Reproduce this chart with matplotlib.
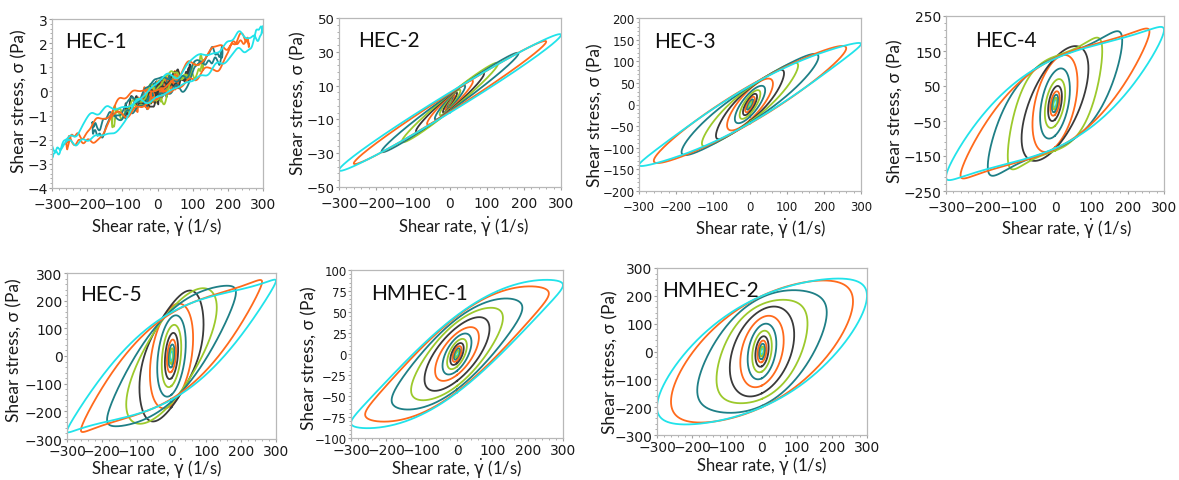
import numpy as np
import matplotlib
matplotlib.use("Agg")
import matplotlib.pyplot as plt
from matplotlib.ticker import AutoMinorLocator, FixedLocator

# ---------------- data ----------------
# shear-rate amplitude of each loop (1/s), outermost first
RATE_AMP = [300, 260, 185, 130, 92, 62, 41, 28, 19, 13, 9, 6, 4]
LOOP_COLORS = ["#21E3EA", "#FF6A1C", "#1E7F86", "#9CC92C", "#3A3A3A",
               "#FF6A1C", "#1E7F86", "#9CC92C", "#3A3A3A",
               "#FF6A1C", "#1E7F86", "#9CC92C", "#21E3EA"]

PANEL_NAMES = ["HEC-1", "HEC-2", "HEC-3", "HEC-4", "HEC-5", "HMHEC-1", "HMHEC-2"]

# per loop: stress at max rate (tip), stress at zero rate on upper branch (s0),
# stress at 0.707*amp on upper branch (sup) and lower branch (slo); None -> ellipse
HEC1_TIP = [2.5, 2.2, 1.6, 1.15, 0.82, 0.55, 0.37, 0.26, 0.18, 0.12, 0.08, 0.06, 0.04]
HEC1_S0 = [0.35, 0.3, 0.25, 0.2, 0.15, 0.12, 0.1, 0.08, 0.06, 0.05, 0.04, 0.03, 0.02]
HEC1_SUP = [None] * 13
HEC1_SLO = [None] * 13

HEC2_TIP = [40, 36, 29, 23, 17, 12.5, 9.5, 7, 5.5, 4, 3, 2.2, 1.5]
HEC2_S0 = [6, 5.5, 5, 5, 4.5, 4, 3.5, 3, 2.5, 2, 1.6, 1.2, 1]
HEC2_SUP = [None] * 13
HEC2_SLO = [None] * 13

HEC3_TIP = [140, 130, 110, 90, 72, 48, 33, 25, 18, 12.5, 8.5, 5.5, 3.5]
HEC3_S0 = [43, 44, 42, 40, 38, 36, 28, 22, 17, 13, 8.5, 6, 4]
HEC3_SUP = [125, 120, 105, 88, 75, None, None, None, None, None, None, None, None]
HEC3_SLO = [78, 62, 45, 32, 20, None, None, None, None, None, None, None, None]

HEC4_TIP = [210, 205, 180, 150, 100, 60, 40, 28, 20, 14, 10, 7, 4]
HEC4_S0 = [128, 130, 130, 135, 130, 125, 92, 64, 46, 32, 23, 15, 10]
HEC4_SUP = [195, 192, 188, 178, None, None, None, None, None, None, None, None, None]
HEC4_SLO = [50, 45, -5, -35, None, None, None, None, None, None, None, None, None]

HEC5_TIP = [272, 268, 230, 175, 115, 65, 45, 32, 24, 17, 12, 8, 5]
HEC5_S0 = [158, 155, 165, 170, 185, 178, 140, 108, 80, 57, 40, 27, 17]
HEC5_SUP = [245, 245, 250, 245, 232, None, None, None, None, None, None, None, None]
HEC5_SLO = [95, 85, 60, 10, -45, None, None, None, None, None, None, None, None]

HMHEC1_TIP = [82, 72, 55, 43, 30, 20, 14, 10, 7, 5, 3.5, 2.5, 1.7]
HMHEC1_S0 = [46, 45, 42, 38, 32, 25, 20, 15, 11, 8, 6, 4, 3]
HMHEC1_SUP = [87, 80, 66, 55, None, None, None, None, None, None, None, None, None]
HMHEC1_SLO = [38, 30, 15, 5, None, None, None, None, None, None, None, None, None]

HMHEC2_TIP = [200, 180, 140, 100, 60, 40, 28, 20, 14, 10, 7, 5, 3]
HMHEC2_S0 = [200, 200, 195, 170, 150, 122, 96, 72, 53, 38, 27, 17, 10.5]
HMHEC2_SUP = [262, 255, 215, 180, None, None, None, None, None, None, None, None, None]
HMHEC2_SLO = [-5, -20, -40, -60, None, None, None, None, None, None, None, None, None]

# small wobble seen on the HEC-1 loops (harmonic order, amplitude in Pa)
HEC1_WOBBLE_ORDER = [5, 8, 13, 17, 23, 31, 41]
HEC1_WOBBLE_AMP = [0.15, 0.13, 0.11, 0.09, 0.07, 0.05, 0.04]

Y_TICKS = [
    [-4, -3, -2, -1, 0, 1, 2, 3],
    [-50, -30, -10, 10, 30, 50],
    [-200, -150, -100, -50, 0, 50, 100, 150, 200],
    [-250, -150, -50, 50, 150, 250],
    [-300, -200, -100, 0, 100, 200, 300],
    [-100, -75, -50, -25, 0, 25, 50, 75, 100],
    [-300, -200, -100, 0, 100, 200, 300],
]
X_TICKS = [-300, -200, -100, 0, 100, 200, 300]

TIPS = [HEC1_TIP, HEC2_TIP, HEC3_TIP, HEC4_TIP, HEC5_TIP, HMHEC1_TIP, HMHEC2_TIP]
S0S = [HEC1_S0, HEC2_S0, HEC3_S0, HEC4_S0, HEC5_S0, HMHEC1_S0, HMHEC2_S0]
SUPS = [HEC1_SUP, HEC2_SUP, HEC3_SUP, HEC4_SUP, HEC5_SUP, HMHEC1_SUP, HMHEC2_SUP]
SLOS = [HEC1_SLO, HEC2_SLO, HEC3_SLO, HEC4_SLO, HEC5_SLO, HMHEC1_SLO, HMHEC2_SLO]

# ---------------- layout ----------------
W, H = 1179, 481
# axes boxes in pixels: left, top, right, bottom
BOXES = [(52, 20, 263, 189), (339, 19, 561, 188), (639, 19, 861, 192),
         (946, 17, 1164, 192), (67, 274, 276, 440), (351, 271, 563, 439),
         (657, 269, 867, 436)]
TITLE_POS = [(0.062, 0.834), (0.086, 0.834), (0.068, 0.832), (0.133, 0.83),
             (0.062, 0.837), (0.094, 0.827), (0.024, 0.832)]
# label centres in pixels
XLABEL_XY = [(157, 227), (464, 227), (761, 229), (1067, 229),
             (157, 469), (457, 469), (762, 466)]
YLABEL_XY = [(19, 101), (298, 103), (595, 115), (895, 111),
             (14, 350), (309, 358), (610, 362)]
XTICK_PAD = [4.5, 4.5, 4.5, 4.5, 1.5, 1.5, 1.5]
XTICK_SIZE = [10, 10, 8.5, 10, 10, 10, 10]
YTICK_SIZE = [10, 9.5, 8.5, 10, 10, 8.5, 10]

TXT = ["Lato", "DejaVu Sans"]
plt.rcParams["mathtext.fontset"] = "dejavusans"

fig = plt.figure(figsize=(W / 100, H / 100), dpi=100)


def loop(amp, tip, s0, sup, slo, n=721):
    if sup is None or slo is None:
        sup = 0.7071 * (tip + s0)
        slo = 0.7071 * (tip - s0)
    r2 = np.sqrt(2.0)
    a1 = (tip + (slo + sup) / r2) / 2
    a3 = ((slo + sup) / r2 - tip) / 2
    b1 = ((slo - sup) / r2 - s0) / 2
    b3 = (-s0 - (slo - sup) / r2) / 2
    t = np.linspace(0, 2 * np.pi, n)
    x = amp * np.sin(t)
    y = a1 * np.sin(t) + b1 * np.cos(t) + a3 * np.sin(3 * t) + b3 * np.cos(3 * t)
    return t, x, y


for p in range(7):
    l, tp, r, b = BOXES[p]
    ax = fig.add_axes([l / W, 1 - b / H, (r - l) / W, (b - tp) / H])
    order = list(range(len(RATE_AMP)))[::-1]
    for i in order:
        t, x, y = loop(RATE_AMP[i], TIPS[p][i], S0S[p][i], SUPS[p][i], SLOS[p][i],
                       n=2001 if p == 0 else 721)
        if p == 0:
            for j, (h, a) in enumerate(zip(HEC1_WOBBLE_ORDER, HEC1_WOBBLE_AMP)):
                y = y + a * np.sin(h * t + 1.3 * (i + 1) * (j + 1))
        ax.plot(x, y, color=LOOP_COLORS[i], lw=1.3, solid_joinstyle="round")
    yt = Y_TICKS[p]
    ax.set_xlim(-300, 300)
    ax.set_ylim(yt[0], yt[-1])
    ax.xaxis.set_major_locator(FixedLocator(X_TICKS))
    ax.yaxis.set_major_locator(FixedLocator(yt))
    ax.xaxis.set_minor_locator(AutoMinorLocator(5))
    ax.yaxis.set_minor_locator(AutoMinorLocator(5))
    ax.tick_params(which="major", direction="out", length=2, width=0.8,
                   color="#A0A0A0", pad=1.2)
    ax.tick_params(axis="x", which="major", pad=XTICK_PAD[p], labelsize=XTICK_SIZE[p])
    ax.tick_params(axis="y", which="major", labelsize=YTICK_SIZE[p])
    ax.tick_params(which="minor", direction="out", length=1.3, width=0.6, color="#A0A0A0")
    for lab in ax.get_xticklabels() + ax.get_yticklabels():
        lab.set_fontfamily("DejaVu Sans")
        lab.set_color("#1A1A1A")
    for s in ax.spines.values():
        s.set_color("#B8B8B8")
        s.set_linewidth(0.9)
    fig.text(XLABEL_XY[p][0] / W, 1 - XLABEL_XY[p][1] / H,
             r"Shear rate, $\dot{\mathrm{\gamma}}$ (1/s)", family=TXT,
             fontsize=12, color="#1A1A1A", ha="center", va="center")
    fig.text(YLABEL_XY[p][0] / W, 1 - YLABEL_XY[p][1] / H,
             "Shear stress, σ (Pa)", family=TXT, fontsize=12.5, color="#1A1A1A",
             ha="center", va="center", rotation=90)
    ax.text(TITLE_POS[p][0], TITLE_POS[p][1], PANEL_NAMES[p], transform=ax.transAxes,
            family=TXT, fontsize=15, color="#111111", ha="left", va="baseline")

fig.savefig("out.png", dpi=100)
